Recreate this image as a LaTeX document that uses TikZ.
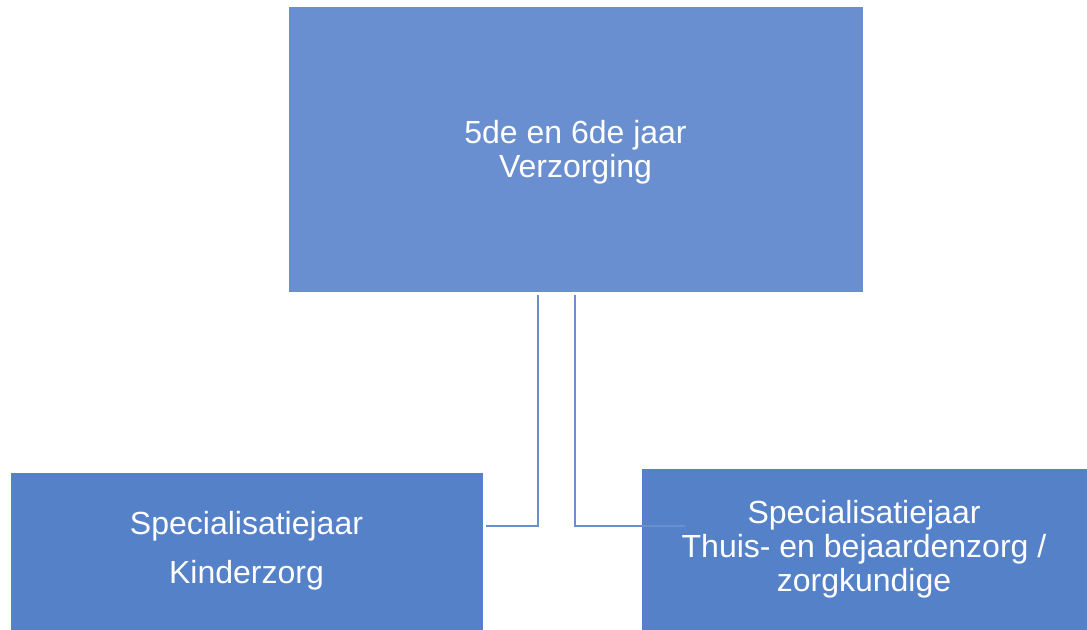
\documentclass[tikz,border=0pt]{standalone}
\usepackage{fontspec}
\setmainfont{Liberation Sans}
\usetikzlibrary{positioning}
\definecolor{TopBlue}{HTML}{6A8FD0}
\definecolor{LowBlue}{HTML}{5581C9}
\definecolor{LineBlue}{HTML}{6A8FD0}
\tikzset{topbox/.style ={
        rectangle,
        fill=TopBlue,
        draw=white,
        very thin,
        text=white,
        align=center,
        inner sep=0pt,
        font=\fontsize{24}{25.5}\selectfont
    },
    lowbox/.style ={
        rectangle,
        fill=LowBlue,
        draw=white,
        very thin,
        text=white,
        align=center,
        inner sep=0pt,
        font=\fontsize{24}{25.5}\selectfont
    },
    conn/.style ={
        draw=LineBlue,
        line width=1.8pt,
    }}

\begin{document}
\begin{tikzpicture}
    [
    x=0.75pt,
    y=-0.75pt
    ]
    \useasboundingbox (0,0) rectangle (1087,630);
    \node (verzorging)[topbox,minimum width=431pt,minimum height=214.5pt,text depth=0pt] at (575.5,149) {5de en 6de jaar\\Verzorging};
    \node (kinderzorg)[lowbox,minimum width=354.75pt,minimum height=118.5pt] at (246.5,551) {Specialisatiejaar\\[11pt]Kinderzorg};
    \node (thuiszorg)[lowbox,minimum width=334.5pt,minimum height=121.5pt] at (864,549) {Specialisatiejaar\\Thuis- en bejaardenzorg /\\zorgkundige};

    \draw[conn] ([xshift=-28pt,yshift=-2.25pt]verzorging.south) |- ([xshift=2.25pt,yshift=18.75pt]kinderzorg.east);
    \draw[conn] ([xshift=-0.4pt,yshift=-2.25pt]verzorging.south) |- ([xshift=33pt,yshift=17.25pt]thuiszorg.west);

\end{tikzpicture}
\end{document}
